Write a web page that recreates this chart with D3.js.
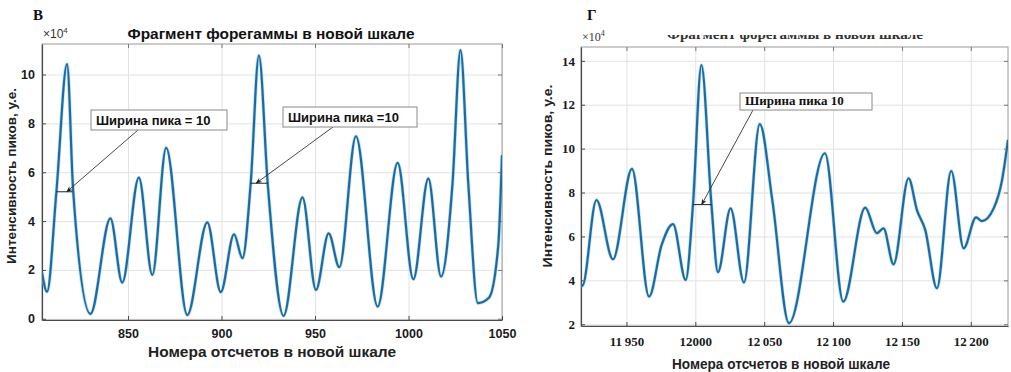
<!DOCTYPE html>
<html>
<head>
<meta charset="utf-8">
<script src="https://cdn.jsdelivr.net/npm/d3@7"></script>
<style>
  body { margin: 0; background: #fff; }
  svg { display: block; }
</style>
</head>
<body>
<div id="chart"></div>
<script>
// Panel "В" - samples 804..1050
const leftX = [804, 806.7, 811.7, 817.4, 820.7, 829.9, 840.6, 846.9, 855.8, 863, 870.4, 881.7, 892.4, 899.6,
    906.7, 911.2, 915.6, 920, 924.7, 933.2, 943.3, 950.5, 957.3, 963, 971.9, 983.5, 994.2, 1002.6, 1010.6,
    1017.4, 1023.5, 1027.8, 1032, 1037.1, 1043, 1048, 1050];
const leftY = [1.9, 1.11, 5.2, 10.43, 5.2, 0.2, 4.11, 1.48, 5.78, 1.8, 7.0, 0.15, 3.95, 1.09,
    3.46, 2.48, 5.54, 10.78, 5.54, 0.12, 4.97, 1.18, 3.5, 2.11, 7.47, 0.5, 6.38, 1.62, 5.74,
    1.73, 5.5, 11.0, 5.5, 0.64, 0.86, 3.0, 6.7];
const leftXTicks = [850, 900, 950, 1000, 1050];
const leftYTicks = [0, 2, 4, 6, 8, 10];

// Panel "Г" - samples 11917..12227
const rightX = [11917, 11918, 11928.2, 11940.2, 11954, 11966.4, 11975.5, 11983.8, 11993, 11998.3, 12004.4,
    12011.7, 12016.4, 12025.6, 12035.3, 12046.8, 12056, 12068, 12094.1, 12107.4, 12123.3, 12131.8, 12136.6,
    12143.9, 12154.8, 12160.9, 12166.9, 12175.4, 12185.8, 12194.8, 12203.8, 12208.1, 12216.6, 12222.7, 12227];
const rightY = [3.85, 3.75, 7.66, 4.96, 9.08, 3.26, 5.6, 6.56, 4.02, 7.45, 13.81,
    7.45, 4.37, 7.28, 3.9, 11.12, 7.6, 2.05, 9.79, 3.03, 7.31, 6.15, 6.37,
    4.73, 8.65, 7.2, 6.3, 3.64, 8.98, 5.46, 6.87, 6.7, 7.28, 8.57, 10.4];
const rightXTicks = [11950, 12000, 12050, 12100, 12150, 12200];
const rightXTickLabels = ["11\u2009950", "12000", "12\u2009050", "12\u2009100", "12\u2009150", "12\u2009200"];
const rightYTicks = [2, 4, 6, 8, 10, 12, 14];

const svg = d3.select("#chart").append("svg")
    .attr("width", 1011)
    .attr("height", 372);

svg.append("defs").append("marker")
    .attr("id", "arrow")
    .attr("viewBox", "0 0 10 10")
    .attr("refX", 9).attr("refY", 5)
    .attr("markerWidth", 7).attr("markerHeight", 7)
    .attr("orient", "auto")
    .append("path")
    .attr("d", "M0,1 L10,5 L0,9 L3,5 Z")
    .attr("fill", "#222");

function drawPanel(p) {
    let x = d3.scaleLinear().domain(p.xDomain).range([p.left, p.right]);
    let y = d3.scaleLinear().domain(p.yDomain).range([p.bottom, p.top]);
    let g = svg.append("g");

    // grid
    g.append("g")
        .attr("transform", "translate(0," + p.bottom + ")")
        .call(d3.axisBottom(x).tickValues(p.xTicks).tickSize(-(p.bottom - p.top)).tickFormat(""))
        .call(a => a.select(".domain").remove())
        .selectAll("line").attr("stroke", "#e2e2e2");
    g.append("g")
        .attr("transform", "translate(" + p.left + ",0)")
        .call(d3.axisLeft(y).tickValues(p.yTicks).tickSize(-(p.right - p.left)).tickFormat(""))
        .call(a => a.select(".domain").remove())
        .selectAll("line").attr("stroke", "#e2e2e2");

    // box
    g.append("rect")
        .attr("x", p.left).attr("y", p.top)
        .attr("width", p.right - p.left).attr("height", p.bottom - p.top)
        .attr("fill", "none").attr("stroke", "#9a9a9a").attr("stroke-width", 1);

    // axes (inward ticks)
    let xAxis = g.append("g")
        .attr("transform", "translate(0," + p.bottom + ")")
        .call(d3.axisBottom(x).tickValues(p.xTicks).tickSizeInner(-4).tickSizeOuter(0)
            .tickPadding(p.xPad).tickFormat((d, i) => p.xLabels[i]));
    let yAxis = g.append("g")
        .attr("transform", "translate(" + p.left + ",0)")
        .call(d3.axisLeft(y).tickValues(p.yTicks).tickSizeInner(-4).tickSizeOuter(0)
            .tickPadding(p.yPad));
    [xAxis, yAxis].forEach(a => {
        a.select(".domain").attr("stroke", "#4a4a4a").attr("stroke-width", 1.2);
        a.selectAll("line").attr("stroke", "#4a4a4a");
        a.selectAll("text")
            .attr("fill", "#1a1a1a")
            .style("font-family", p.tickFont)
            .style("font-size", p.tickSize + "px")
            .style("font-weight", "bold");
    });
    // top/right ticks
    g.append("g")
        .attr("transform", "translate(0," + p.top + ")")
        .call(d3.axisTop(x).tickValues(p.xTicks).tickSizeInner(-4).tickSizeOuter(0).tickFormat(""))
        .call(a => a.select(".domain").remove())
        .selectAll("line").attr("stroke", "#777");
    g.append("g")
        .attr("transform", "translate(" + p.right + ",0)")
        .call(d3.axisRight(y).tickValues(p.yTicks).tickSizeInner(-4).tickSizeOuter(0).tickFormat(""))
        .call(a => a.select(".domain").remove())
        .selectAll("line").attr("stroke", "#777");

    // curve
    let pts = p.xs.map((v, i) => [v, p.ys[i]]);
    let line = d3.line()
        .x(d => x(d[0]))
        .y(d => y(d[1]))
        .curve(d3.curveMonotoneX);

    let clipId = "clip" + p.id;
    svg.select("defs").append("clipPath").attr("id", clipId)
        .append("rect")
        .attr("x", p.left).attr("y", p.top)
        .attr("width", p.right - p.left).attr("height", p.bottom - p.top + 2);

    g.append("path")
        .datum(pts)
        .attr("clip-path", "url(#" + clipId + ")")
        .attr("fill", "none")
        .attr("stroke", "#8fcbe8")
        .attr("stroke-width", 3.6)
        .attr("opacity", 0.6)
        .attr("d", line);
    g.append("path")
        .datum(pts)
        .attr("clip-path", "url(#" + clipId + ")")
        .attr("fill", "none")
        .attr("stroke", "#1b6aa0")
        .attr("stroke-width", 2.2)
        .attr("d", line);

    // annotations
    p.notes.forEach(n => {
        g.append("line")
            .attr("x1", x(n.w[0])).attr("x2", x(n.w[1]))
            .attr("y1", y(n.level)).attr("y2", y(n.level))
            .attr("stroke", "#222").attr("stroke-width", 1);
        g.append("line")
            .attr("x1", n.from[0]).attr("y1", n.from[1])
            .attr("x2", x(n.tip)).attr("y2", y(n.level))
            .attr("stroke", "#333").attr("stroke-width", 0.9)
            .attr("marker-end", "url(#arrow)");
        g.append("rect")
            .attr("x", n.box[0]).attr("y", n.box[1])
            .attr("width", n.box[2]).attr("height", n.box[3])
            .attr("fill", "#fff").attr("stroke", "#8a8a8a").attr("stroke-width", 1);
        g.append("text")
            .attr("x", n.box[0] + 5).attr("y", n.box[1] + n.box[3] - 5)
            .style("font-family", p.noteFont)
            .style("font-size", "13px")
            .style("font-weight", "bold")
            .attr("fill", "#111")
            .text(n.text);
    });

    // x10^4
    let ex = g.append("text")
        .attr("x", p.left + 1).attr("y", p.top - 6)
        .style("font-family", p.tickFont)
        .style("font-size", "12px")
        .attr("fill", "#333");
    ex.append("tspan").text("\u00d710");
    ex.append("tspan").attr("dy", -5).style("font-size", "8px").text("4");

    // axis labels
    g.append("text")
        .attr("x", p.xLabelPos[0]).attr("y", p.xLabelPos[1])
        .attr("text-anchor", "middle")
        .attr("textLength", p.xLabelPos[2]).attr("lengthAdjust", "spacingAndGlyphs")
        .style("font-family", "'Liberation Sans', Arial, sans-serif")
        .style("font-size", "14px").style("font-weight", "bold")
        .attr("fill", "#222")
        .text("Номера отсчетов в новой шкале");
    g.append("text")
        .attr("transform", "translate(" + p.yLabelPos[0] + "," + p.yLabelPos[1] + ") rotate(-90)")
        .attr("text-anchor", "middle")
        .attr("textLength", p.yLabelPos[2]).attr("lengthAdjust", "spacingAndGlyphs")
        .style("font-family", "'Liberation Sans', Arial, sans-serif")
        .style("font-size", "13px").style("font-weight", "bold")
        .attr("fill", "#222")
        .text("Интенсивность пиков, у.е.");

    // panel letter
    g.append("text")
        .attr("x", p.letterPos[0]).attr("y", p.letterPos[1])
        .style("font-family", "'Liberation Serif', 'Times New Roman', serif")
        .style("font-size", "15px").style("font-weight", "bold")
        .attr("fill", "#111")
        .text(p.letter);

    return g;
}

drawPanel({
    id: "L", letter: "В", letterPos: [33, 20],
    left: 42, right: 502, top: 44, bottom: 320,
    xDomain: [804, 1050], yDomain: [-0.05, 11.25],
    xs: leftX, ys: leftY,
    xTicks: leftXTicks, xLabels: leftXTicks.map(String), yTicks: leftYTicks,
    tickFont: "'Liberation Sans', Arial, sans-serif", tickSize: 12.5, xPad: 9, yPad: 7,
    noteFont: "'Liberation Sans', Arial, sans-serif",
    xLabelPos: [272, 357, 248], yLabelPos: [16, 176, 176],
    notes: [
        {text: "Ширина пика = 10", box: [91, 110, 136, 20], from: [138, 130], w: [811.7, 820.2], tip: 817.2, level: 5.2},
        {text: "Ширина пика =10", box: [283, 107, 134, 20], from: [333, 127], w: [915.3, 924.8], tip: 918.5, level: 5.55}
    ]
});

drawPanel({
    id: "R", letter: "Г", letterPos: [587, 20],
    left: 581, right: 1008, top: 47, bottom: 326,
    xDomain: [11917, 12227], yDomain: [1.92, 14.63],
    xs: rightX, ys: rightY,
    xTicks: rightXTicks, xLabels: rightXTickLabels, yTicks: rightYTicks,
    tickFont: "'Liberation Serif', 'Times New Roman', serif", tickSize: 13, xPad: 11, yPad: 6,
    noteFont: "'Liberation Serif', 'Times New Roman', serif",
    xLabelPos: [781, 369, 218], yLabelPos: [552, 176, 183],
    notes: [
        {text: "Ширина пика 10", box: [740, 93, 132, 17], from: [753, 110], w: [11998.3, 12011.9], tip: 12004.6, level: 7.45}
    ]
});

// titles
svg.append("text")
    .attr("x", 271).attr("y", 39)
    .attr("text-anchor", "middle")
    .attr("textLength", 287).attr("lengthAdjust", "spacingAndGlyphs")
    .style("font-family", "'Liberation Sans', Arial, sans-serif")
    .style("font-size", "14px").style("font-weight", "bold")
    .attr("fill", "#111")
    .text("Фрагмент форегаммы в новой шкале");

// right title is cut off at the top in the original
svg.select("defs").append("clipPath").attr("id", "titleClip")
    .append("rect").attr("x", 600).attr("y", 35).attr("width", 400).attr("height", 8);
svg.append("text")
    .attr("x", 795).attr("y", 39)
    .attr("text-anchor", "middle")
    .attr("clip-path", "url(#titleClip)")
    .attr("textLength", 256).attr("lengthAdjust", "spacingAndGlyphs")
    .style("font-family", "'Liberation Serif', 'Times New Roman', serif")
    .style("font-size", "14px").style("font-weight", "bold")
    .attr("fill", "#333")
    .text("Фрагмент форегаммы в новой шкале");
</script>
</body>
</html>
